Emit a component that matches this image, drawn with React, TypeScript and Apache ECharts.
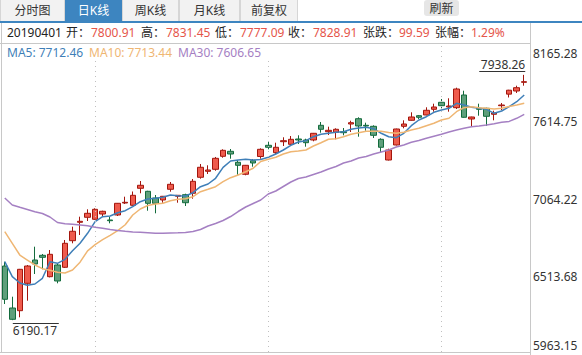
import React, { useEffect, useRef } from "react";
import * as echarts from "echarts";

const dates = [
  "2018-12-21","2018-12-24","2018-12-26","2018-12-27","2018-12-28","2018-12-31",
  "2019-01-02","2019-01-03","2019-01-04","2019-01-07","2019-01-08","2019-01-09","2019-01-10","2019-01-11","2019-01-14","2019-01-15","2019-01-16","2019-01-17","2019-01-18","2019-01-22","2019-01-23","2019-01-24","2019-01-25","2019-01-28","2019-01-29","2019-01-30","2019-01-31",
  "2019-02-01","2019-02-04","2019-02-05","2019-02-06","2019-02-07","2019-02-08","2019-02-11","2019-02-12","2019-02-13","2019-02-14","2019-02-15","2019-02-19","2019-02-20","2019-02-21","2019-02-22","2019-02-25","2019-02-26","2019-02-27","2019-02-28",
  "2019-03-01","2019-03-04","2019-03-05","2019-03-06","2019-03-07","2019-03-08","2019-03-11","2019-03-12","2019-03-13","2019-03-14","2019-03-15","2019-03-18","2019-03-19","2019-03-20","2019-03-21","2019-03-22","2019-03-25","2019-03-26","2019-03-27","2019-03-28","2019-03-29",
  "2019-04-01","2019-04-02","2019-04-03",
];

const opens = [
  6576.0, 6276.7, 6257.5, 6452.7, 6618.8, 6652.3, 6499.8, 6583.2, 6566.8, 6756.4,
  6887.4, 6923.1, 6908.9, 6946.6, 6903.9, 6939.5, 7025.0, 7008.6, 7129.8, 7108.4,
  7060.7, 7046.5, 7122.7, 7072.8, 7084.2, 7094.2, 7208.2, 7250.9, 7265.2, 7357.8,
  7393.4, 7315.1, 7229.6, 7326.4, 7356.4, 7436.2, 7383.5, 7461.9, 7443.3, 7481.1,
  7474.0, 7474.0, 7578.7, 7533.1, 7528.8, 7533.1, 7588.0, 7625.8, 7578.7, 7571.6,
  7479.0, 7331.4, 7438.4, 7571.6, 7614.4, 7647.2, 7652.2, 7692.8, 7742.7, 7709.2,
  7704.2, 7794.7, 7623.7, 7699.9, 7699.9, 7657.2, 7718.5, 7800.91, 7823.2, 7885.2,
];
const closes = [
  6338.7, 6196.2, 6552.5, 6576.0, 6590.3, 6638.0, 6659.4, 6469.2, 6737.8, 6823.4,
  6894.6, 6951.6, 6980.1, 6965.9, 6898.9, 7022.9, 7030.0, 7079.9, 7151.2, 7022.9,
  7022.9, 7072.8, 7158.3, 7079.9, 7027.1, 7179.6, 7279.5, 7260.2, 7343.6, 7400.5,
  7374.2, 7293.7, 7293.7, 7310.1, 7407.7, 7422.0, 7422.0, 7469.0, 7479.0, 7474.0,
  7454.8, 7521.7, 7550.3, 7543.1, 7550.3, 7526.0, 7597.3, 7573.8, 7573.8, 7507.5,
  7422.0, 7402.7, 7552.4, 7588.0, 7638.0, 7635.8, 7685.7, 7709.2, 7718.5, 7716.3,
  7837.5, 7635.8, 7638.0, 7692.8, 7642.9, 7666.4, 7723.4, 7828.91, 7846.7, 7889.5,
];
const lows = [
  6305.2, 6190.17, 6210.4, 6328.7, 6519.0, 6552.5, 6495.0, 6452.7, 6562.0, 6737.8,
  6797.0, 6896.7, 6905.0, 6927.4, 6880.3, 6932.4, 7017.9, 7005.0, 7094.2, 6970.1,
  6951.6, 7027.1, 7105.6, 7027.1, 7003.6, 7055.6, 7198.2, 7231.7, 7255.0, 7347.8,
  7340.7, 7226.7, 7222.4, 7283.7, 7340.7, 7407.7, 7374.2, 7431.2, 7436.2, 7445.5,
  7426.2, 7464.7, 7526.0, 7509.6, 7479.0, 7507.5, 7531.0, 7497.5, 7540.3, 7488.2,
  7388.5, 7328.0, 7435.0, 7557.4, 7612.0, 7623.7, 7650.0, 7675.7, 7699.9, 7675.7,
  7694.9, 7633.0, 7571.6, 7647.2, 7573.8, 7614.4, 7687.8, 7777.09, 7809.0, 7861.0,
];
const highs = [
  6606.7, 6357.2, 6555.0, 6583.0, 6713.6, 6661.6, 6690.0, 6595.3, 6761.4, 6856.2,
  6927.4, 6980.1, 6987.3, 6970.1, 6927.4, 7025.0, 7070.0, 7107.0, 7181.8, 7112.0,
  7082.0, 7075.0, 7174.7, 7082.0, 7091.3, 7196.1, 7303.0, 7293.7, 7353.0, 7407.7,
  7409.8, 7331.4, 7296.0, 7338.6, 7414.8, 7459.9, 7454.8, 7493.3, 7502.5, 7507.5,
  7483.2, 7524.0, 7602.2, 7568.8, 7557.4, 7559.5, 7611.5, 7635.8, 7597.3, 7578.7,
  7486.1, 7412.0, 7555.0, 7614.4, 7671.4, 7652.2, 7707.1, 7732.7, 7766.2, 7771.2,
  7846.7, 7825.3, 7640.0, 7732.7, 7704.2, 7682.8, 7737.7, 7831.45, 7861.0, 7938.26,
];

const ma5 = [
  6606.7, 6499.8, 6454.9, 6438.5, 6447.8, 6488.4, 6606.7, 6595.3, 6623.8, 6685.1,
  6737.8, 6809.1, 6891.8, 6927.4, 6932.4, 6955.9, 6970.2, 6998.7, 7034.3, 7053.5,
  7058.5, 7065.6, 7082.0, 7077.0, 7074.9, 7098.4, 7141.2, 7160.4, 7201.1, 7279.4,
  7324.3, 7331.5, 7336.5, 7331.5, 7335.0, 7350.7, 7374.2, 7402.7, 7436.2, 7459.7,
  7469.0, 7497.5, 7514.6, 7521.7, 7528.9, 7533.2, 7550.3, 7559.5, 7564.5, 7554.5,
  7521.7, 7497.5, 7490.4, 7521.7, 7575.9, 7616.5, 7640.1, 7671.4, 7687.8, 7699.9,
  7735.5, 7723.4, 7707.0, 7699.9, 7692.8, 7664.3, 7680.7, 7712.46, 7747.0, 7794.7,
];
const ma10 = [
  6820.5, 6737.8, 6654.4, 6618.8, 6583.2, 6556.8, 6546.1, 6531.9, 6526.2, 6547.5,
  6603.1, 6684.4, 6727.8, 6763.5, 6794.8, 6828.0, 6870.0, 6939.5, 6982.3, 7007.2,
  7017.9, 7022.9, 7041.4, 7051.4, 7055.7, 7069.9, 7105.6, 7122.7, 7141.2, 7176.8,
  7205.3, 7224.6, 7248.1, 7272.3, 7320.8, 7336.5, 7350.7, 7374.2, 7390.6, 7395.6,
  7402.7, 7431.2, 7454.8, 7479.0, 7483.3, 7497.5, 7514.6, 7526.0, 7536.0, 7536.0,
  7536.0, 7527.5, 7521.7, 7528.9, 7545.3, 7557.4, 7575.9, 7593.0, 7616.5, 7628.6,
  7675.7, 7704.2, 7711.3, 7704.2, 7699.9, 7694.9, 7699.9, 7713.44, 7723.4, 7735.5,
];
const ma30 = [
  7060.7, 7010.8, 6994.4, 6978.7, 6963.0, 6950.2, 6925.3, 6886.1, 6877.5, 6873.2,
  6868.2, 6863.2, 6851.8, 6844.7, 6836.2, 6829.0, 6823.3, 6818.4, 6816.2, 6813.4,
  6809.1, 6809.1, 6811.2, 6812.6, 6814.8, 6821.9, 6836.2, 6861.1, 6878.9, 6900.3,
  6928.8, 6964.4, 6996.5, 7021.5, 7046.4, 7089.2, 7110.5, 7142.6, 7174.7, 7199.6,
  7210.3, 7228.1, 7245.9, 7267.3, 7285.1, 7310.1, 7324.3, 7345.7, 7356.4, 7374.2,
  7388.5, 7402.7, 7424.1, 7438.4, 7457.6, 7470.4, 7486.1, 7500.4, 7514.6, 7531.0,
  7545.3, 7557.4, 7568.8, 7573.8, 7580.9, 7590.2, 7600.1, 7606.65, 7628.6, 7657.2,
];

const yTickLabels = ["5963.15", "6513.68", "7064.22", "7614.75", "8165.28"];
const yMin = 5963.15;
const yMax = 8165.28;
const splitDates = ["2019-01-10", "2019-02-13", "2019-03-19"];

const tabs = ["分时图", "日K线", "周K线", "月K线", "前复权"];
const activeTab = 1;
const refreshText = "刷新";

const infoDate = "20190401";
const infoLabels = ["开：", "高：", "低：", "收：", "张跌：", "张幅："];
const infoValues = ["7800.91", "7831.45", "7777.09", "7828.91", "99.59", "1.29%"];

const maNames = ["MA5", "MA10", "MA30"];
const maValues = ["7712.46", "7713.44", "7606.65"];

const FONT = "'Noto Sans', 'Noto Sans CJK SC', sans-serif";
const BLUE = "#3d85c0";
const RED_TXT = "#e5554a";
const MA_COLORS = ["#3f7fb8", "#efb673", "#a580c3"];
const GRID_LINE = "#c8c8c8";

function buildGraphics() {
  const g: any[] = [];
  const tabX = [0, 65, 122, 179, 240, 298];
  tabs.forEach((t, i) => {
    const x0 = tabX[i];
    const x1 = tabX[i + 1];
    const active = i === activeTab;
    g.push({
      type: "rect",
      z: 1,
      shape: { x: x0 + 0.5, y: -0.5, width: x1 - x0 - 1, height: 22 },
      style: { fill: active ? BLUE : "#f2f2f2", stroke: active ? BLUE : "#d6d6d6", lineWidth: 1 },
    });
    g.push({
      type: "text",
      z: 2,
      style: {
        text: t, x: (x0 + x1) / 2, y: 10, align: "center", verticalAlign: "middle",
        fill: active ? "#ffffff" : "#333333", fontSize: 12, fontFamily: FONT,
      },
    });
  });
  g.push({ type: "rect", z: 2, shape: { x: 0, y: 21, width: 582, height: 2 }, style: { fill: BLUE } });
  g.push({ type: "rect", z: 2, shape: { x: 424, y: 0, width: 35, height: 16, r: 3 }, style: { fill: "#e6e6e6" } });
  g.push({
    type: "text", z: 3,
    style: { text: refreshText, x: 441.5, y: 8, align: "center", verticalAlign: "middle", fill: "#333", fontSize: 12, fontFamily: FONT },
  });

  // info row
  g.push({
    type: "text", z: 3,
    style: { text: infoDate, x: 7, y: 32.5, verticalAlign: "middle", fill: "#222", fontSize: 12, fontFamily: FONT },
  });
  const labelX = [66, 141, 215, 288, 363, 435];
  const valueX = [91, 166, 240, 313, 399, 471];
  infoLabels.forEach((l, i) => {
    g.push({
      type: "text", z: 3,
      style: { text: l, x: labelX[i], y: 32.5, verticalAlign: "middle", fill: "#222", fontSize: 12, fontFamily: FONT },
    });
    g.push({
      type: "text", z: 3,
      style: { text: infoValues[i], x: valueX[i], y: 32.5, verticalAlign: "middle", fill: RED_TXT, fontSize: 12, fontFamily: FONT },
    });
  });

  // borders
  const line = (x1: number, y1: number, x2: number, y2: number) => ({
    type: "line", z: 4, silent: true,
    shape: { x1, y1, x2, y2 },
    style: { stroke: GRID_LINE, lineWidth: 1 },
  });
  g.push(line(0, 43.5, 530, 43.5));
  g.push(line(0, 352.5, 530, 352.5));
  g.push(line(1.5, 23, 1.5, 352));
  g.push(line(530.5, 23, 530.5, 355));

  // MA legend
  g.push({ type: "rect", z: 10, shape: { x: 2, y: 44, width: 296, height: 17 }, style: { fill: "#ffffff" } });
  const maX = [7, 89, 178];
  maNames.forEach((n, i) => {
    g.push({
      type: "text", z: 11,
      style: { text: `${n}: ${maValues[i]}`, x: maX[i], y: 52.5, verticalAlign: "middle", fill: MA_COLORS[i], fontSize: 12, fontFamily: FONT },
    });
  });
  return g;
}

export default function App() {
  const ref = useRef<HTMLDivElement>(null);
  useEffect(() => {
    if (!ref.current) return;
    const chart = echarts.init(ref.current, undefined, { renderer: "svg" });
    const kData = dates.map((_, i) => [opens[i], closes[i], lows[i], highs[i]]);
    const minIdx = lows.indexOf(Math.min(...lows));
    const maxIdx = highs.indexOf(Math.max(...highs));
    const splitIdx = splitDates.map((d) => dates.indexOf(d));

    const option: any = {
      animation: false,
      backgroundColor: "#ffffff",
      grid: { left: 1, right: 54, top: 43, bottom: 3, containLabel: false },
      xAxis: {
        type: "category",
        data: dates,
        boundaryGap: true,
        axisLine: { show: false },
        axisLabel: { show: false },
        axisTick: {
          show: true,
          alignWithLabel: true,
          length: 3,
          interval: (i: number) => splitIdx.includes(i),
          lineStyle: { color: "#c0c0c0", type: [1, 2] },
        },
        splitLine: { show: false },
      },
      yAxis: [
        { type: "value", min: yMin, max: yMax, show: false },
        {
          type: "value",
          min: 0,
          max: 4,
          interval: 1,
          position: "right",
          offset: 2,
          axisLine: { show: false },
          axisTick: { show: false },
          splitLine: { show: false },
          axisLabel: {
            margin: 3,
            color: "#333",
            fontSize: 12,
            fontFamily: FONT,
            formatter: (v: number) => {
              const t = yTickLabels[Math.round(v)];
              if (v === 4) return `{top|${t}}`;
              if (v === 0) return `{bot|${t}}`;
              return `{mid|${t}}`;
            },
            rich: {
              top: { padding: [20, 0, 0, 0], color: "#333", fontSize: 12, fontFamily: FONT },
              bot: { padding: [0, 0, 14, 0], color: "#333", fontSize: 12, fontFamily: FONT },
              mid: { padding: [3, 0, 0, 0], color: "#333", fontSize: 12, fontFamily: FONT },
            },
          },
        },
      ],
      graphic: { elements: buildGraphics() },
      series: [
        {
          type: "candlestick",
          name: "K",
          data: kData,
          barWidth: 6,
          yAxisIndex: 0,
          itemStyle: {
            color: "#ef5b4d",
            color0: "#5e9f7b",
            borderColor: "#a3160d",
            borderColor0: "#136b3c",
            borderWidth: 1,
          },
          markLine: {
            silent: true,
            symbol: ["none", "none"],
            label: { show: false },
            lineStyle: { color: "#c0c0c0", type: [1, 4], width: 1 },
            emphasis: { disabled: true },
            data: splitDates.map((d) => ({ xAxis: d })),
          },
        },
        ...[ma5, ma10, ma30].map((d, i) => ({
          type: "line",
          name: maNames[i],
          data: d,
          yAxisIndex: 0,
          showSymbol: false,
          symbol: "none",
          smooth: false,
          lineStyle: { color: MA_COLORS[i], width: 1.5 },
          itemStyle: { color: MA_COLORS[i] },
          z: 3,
        })),
        {
          type: "custom",
          yAxisIndex: 0,
          silent: true,
          clip: false,
          z: 5,
          encode: { x: 0, y: 1 },
          data: [
            [minIdx, lows[minIdx], 0],
            [maxIdx, highs[maxIdx], 1],
          ],
          renderItem: (params: any, api: any) => {
            const p = api.coord([api.value(0), api.value(1)]);
            const isMax = api.value(2) === 1;
            const text = Number(api.value(1)).toFixed(2);
            const w = 46;
            if (isMax) {
              const right = p[0] + 1;
              const ly = Math.round(p[1] - 4) + 0.5;
              return {
                type: "group",
                children: [
                  { type: "text", style: { text, x: right, y: p[1] - 10, align: "right", verticalAlign: "middle", fill: "#333", fontSize: 12, fontFamily: FONT } },
                  { type: "line", shape: { x1: right - w, y1: ly, x2: right, y2: ly }, style: { stroke: "#333", lineWidth: 1 } },
                ],
              };
            }
            const left = p[0] + 0.5;
            const ly = Math.round(p[1] + 3) + 0.5;
            return {
              type: "group",
              children: [
                { type: "text", style: { text, x: left, y: p[1] + 10, align: "left", verticalAlign: "middle", fill: "#333", fontSize: 12, fontFamily: FONT } },
                { type: "line", shape: { x1: left, y1: ly, x2: left + w, y2: ly }, style: { stroke: "#333", lineWidth: 1 } },
              ],
            };
          },
        },
      ],
    };
    chart.setOption(option);
    return () => chart.dispose();
  }, []);
  return (
    <div style={{ position: "fixed", left: 0, top: 0, width: 582, height: 355, background: "#fff" }}>
      <div ref={ref} style={{ width: 582, height: 355 }} />
    </div>
  );
}
